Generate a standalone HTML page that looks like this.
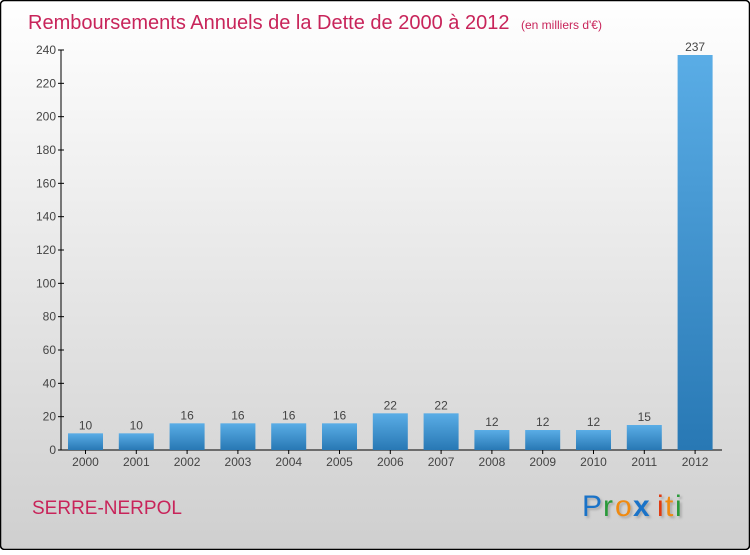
<!DOCTYPE html>
<html><head><meta charset="utf-8"><style>
body{margin:0;}
svg text{font-family:"Liberation Sans",sans-serif;}
</style></head><body>
<svg width="750" height="550" xmlns="http://www.w3.org/2000/svg">
<defs>
<linearGradient id="bg" x1="0" y1="0" x2="0" y2="1"><stop offset="0" stop-color="#ffffff"/><stop offset="1" stop-color="#cfcfcf"/></linearGradient>
<linearGradient id="bar" x1="0" y1="0" x2="0" y2="1"><stop offset="0" stop-color="#5aade6"/><stop offset="1" stop-color="#2878b4"/></linearGradient>
</defs>
<rect x="0.5" y="0.5" width="749" height="549" rx="4" fill="url(#bg)" stroke="#000" stroke-width="1.5"/>
<text x="28" y="29" font-size="20" fill="#c8245a">Remboursements Annuels de la Dette de 2000 à 2012 <tspan font-size="12" dx="6">(en milliers d'€)</tspan></text>
<g id="axes"></g>
<g id="bars"></g>
<text x="32" y="514" font-size="19" fill="#c8245a">SERRE-NERPOL</text>
<g font-size="30" style="text-shadow:2px 2px 2px #aaa">
<text x="582" y="516" fill="#1a73c8">P</text><text x="603" y="516" fill="#2a9a3a">r</text><text x="615" y="516" fill="#f08a10">o</text><text x="633" y="516" fill="#1a73c8" font-weight="bold">x</text><text x="657" y="516" fill="#e03a10">i</text><text x="665" y="516" fill="#f08a10">t</text><text x="675" y="516" fill="#2a9a3a">i</text>
</g>
</svg>
<script>
const years=["2000","2001","2002","2003","2004","2005","2006","2007","2008","2009","2010","2011","2012"];
const values=[10,10,16,16,16,16,22,22,12,12,12,15,237];
const yTicks=[0,20,40,60,80,100,120,140,160,180,200,220,240];
const NS="http://www.w3.org/2000/svg";
const y0=450,ppu=400/240,x0=85.5,step=50.8,bw=35;
const Y=v=>y0-v*ppu, X=i=>x0+i*step;
function mk(t,a,p){const e=document.createElementNS(NS,t);for(const k in a)e.setAttribute(k,a[k]);p.appendChild(e);return e;}
const ax=document.getElementById('axes'), bg=document.getElementById('bars');
const yl=mk('line',{x1:61,y1:y0,x2:61,y2:Y(240),stroke:'#000'},ax);


const xl=mk('line',{x1:61,y1:y0,x2:722,y2:y0,stroke:'#000'},ax);


yTicks.forEach(v=>{
 mk('line',{x1:58,y1:Y(v),x2:64,y2:Y(v),stroke:'#000'},ax);
 const t=mk('text',{x:56,y:Y(v)+4,'font-size':12,fill:'#444','text-anchor':'end'},ax);t.textContent=v;
 
 
});
years.forEach((yr,i)=>{
 const r=mk('rect',{x:X(i)-bw/2,y:Y(values[i]),width:bw,height:values[i]*ppu,fill:'url(#bar)'},bg);
 
 
 const v=mk('text',{x:X(i),y:Y(values[i])-4,'font-size':12,fill:'#444','text-anchor':'middle'},bg);v.textContent=values[i];
 
 
 mk('line',{x1:X(i),y1:y0,x2:X(i),y2:y0+4,stroke:'#000'},ax);
 const t=mk('text',{x:X(i),y:466,'font-size':12,fill:'#444','text-anchor':'middle'},ax);t.textContent=yr;
 
 
});
</script>
</body></html>
